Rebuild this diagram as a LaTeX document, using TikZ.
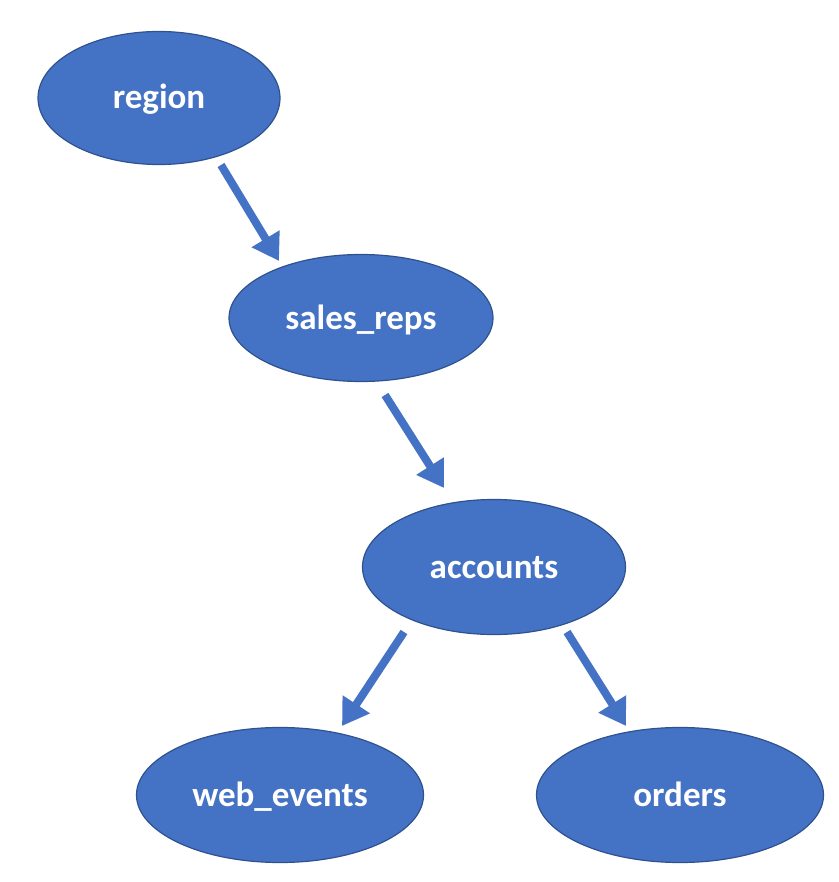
\documentclass[tikz,border=0pt]{standalone}
\usepackage{fontspec}
\setmainfont{Carlito}
\usetikzlibrary{shapes.geometric,arrows.meta}
\definecolor{tblfill}{HTML}{4472C4}
\definecolor{tbldraw}{HTML}{2F528F}

\begin{document}
\begin{tikzpicture}[x=1pt,y=-1pt,
	tbl/.style={ellipse,fill=tblfill,draw=tbldraw,line width=1.2pt,inner sep=0pt,
		text=white,text height=29pt,text depth=7pt,
		font=\fontsize{35}{42}\selectfont\bfseries},
	link/.style={-{Triangle[length=26pt,width=31pt]},color=tblfill,line width=8pt}]
	\useasboundingbox (0,0) rectangle (838,882);

	\node[tbl,minimum width=242pt,minimum height=133pt] (region) at (159,98) {region};
	\node[tbl,minimum width=264pt,minimum height=127pt] (sales) at (361,318) {sales\_reps};
	\node[tbl,minimum width=263pt,minimum height=135pt] (accounts) at (494,567) {accounts};
	\node[tbl,minimum width=287pt,minimum height=135pt] (web) at (280,795) {web\_events};
	\node[tbl,minimum width=287pt,minimum height=135pt] (orders) at (680,795) {orders};

	\coordinate (r1) at (221,165);
	\coordinate (s0) at (279,261);
	\coordinate (s1) at (385,395);
	\coordinate (a0) at (444,488);
	\coordinate (a1) at (404,632);
	\coordinate (w0) at (342,726);
	\coordinate (a2) at (567,632);
	\coordinate (o0) at (626,726);

	\draw[link] (r1) -- (s0);
	\draw[link] (s1) -- (a0);
	\draw[link] (a1) -- (w0);
	\draw[link] (a2) -- (o0);

\end{tikzpicture}
\end{document}
